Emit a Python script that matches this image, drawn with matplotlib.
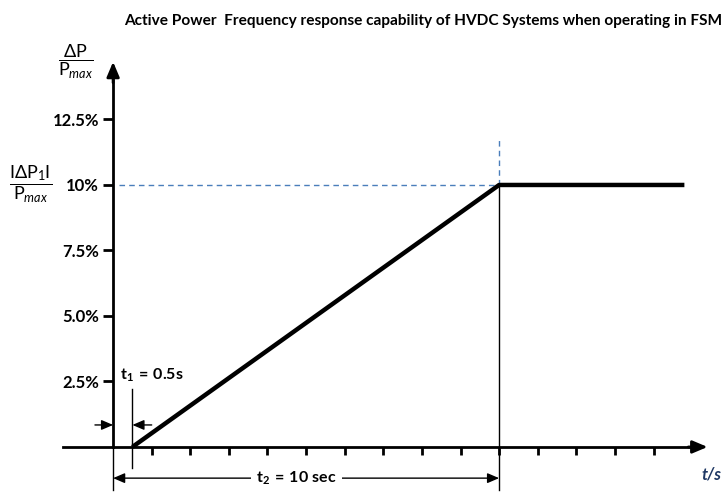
import numpy as np
import matplotlib
matplotlib.use('Agg')
import matplotlib.pyplot as plt

plt.rcParams['font.family'] = ['Lato', 'DejaVu Sans']
plt.rcParams['mathtext.fontset'] = 'custom'
plt.rcParams['mathtext.rm'] = 'Lato'
plt.rcParams['mathtext.it'] = 'Lato:italic'
plt.rcParams['mathtext.bf'] = 'Lato:bold'
plt.rcParams['mathtext.fallback'] = 'stixsans'

# response curve (time in s, active power in % of Pmax)
t_resp = [0.5, 10.0, 14.8]
p_resp = [0.0, 10.0, 10.0]

t1 = 0.5        # initial delay
t2 = 10.0       # full activation time
p_max_step = 10.0

y_ticks = [2.5, 5.0, 7.5, 10.0, 12.5]
y_labels = ['2.5%', '5.0%', '7.5%', '10%', '12.5%']
x_ticks = list(range(1, 15))

title = 'Active Power  Frequency response capability of HVDC Systems when operating in FSM'

fig = plt.figure(figsize=(7.28, 4.97), dpi=100)
ax = fig.add_axes([0, 0, 1, 1])
ax.set_xlim(-2.93, 15.93)
ax.set_ylim(-1.91, 17.06)

# axes through the origin
for s in ['top', 'right']:
    ax.spines[s].set_visible(False)
ax.spines['left'].set_position(('data', 0))
ax.spines['bottom'].set_position(('data', 0))
ax.spines['left'].set_bounds(0, 14.0)
ax.spines['bottom'].set_bounds(-1.3, 15.0)
ax.spines['left'].set_linewidth(2)
ax.spines['bottom'].set_linewidth(2)
ax.patch.set_visible(False)

arrow_kw = dict(arrowstyle='-|>,head_length=0.9,head_width=0.38', lw=2,
                color='black', shrinkA=0, shrinkB=0, mutation_scale=10)
ax.annotate('', xy=(0, 14.7), xytext=(0, 13.9), arrowprops=arrow_kw)
ax.annotate('', xy=(15.4, 0), xytext=(14.9, 0), arrowprops=arrow_kw)

ax.set_yticks(y_ticks)
ax.set_yticklabels(y_labels, fontsize=12, fontweight='bold')
ax.set_xticks(x_ticks)
ax.set_xticklabels([])
ax.tick_params(axis='y', direction='out', length=7, width=2, pad=3)
ax.tick_params(axis='x', direction='out', length=6, width=2)

# reference lines
ref_blue = '#4a7ebb'
ax.plot([0.15, t2], [p_max_step, p_max_step], color=ref_blue, lw=1,
        ls=(0, (4, 3)))
ax.plot([t2, t2], [p_max_step, 11.8], color=ref_blue, lw=1, ls=(0, (4, 3)))
ax.plot([t2, t2], [-1.64, p_max_step], color='black', lw=1)
ax.plot([0, 0], [-1.64, 0], color='black', lw=1)
ax.plot([t1, t1], [-0.8, 2.2], color='black', lw=1)

# response
ax.plot(t_resp, p_resp, color='black', lw=3.2, solid_capstyle='butt')

# t1 arrows
small_arrow = dict(arrowstyle='-|>,head_length=0.7,head_width=0.3', lw=1,
                   color='black', shrinkA=0, shrinkB=0, mutation_scale=10)
ax.annotate('', xy=(0, 0.84), xytext=(-0.47, 0.84), arrowprops=small_arrow)
ax.annotate('', xy=(t1, 0.84), xytext=(1.0, 0.84), arrowprops=small_arrow)
ax.text(0.18, 2.75, r'$\mathbf{t_{1}\:=\:0.5s}$', fontsize=11.5,
        ha='left', va='center')

# t2 arrow
small_arrow2 = dict(arrowstyle='<|-|>,head_length=0.7,head_width=0.3', lw=1,
                    color='black', shrinkA=0, shrinkB=0, mutation_scale=10)
ax.annotate('', xy=(0, -1.19), xytext=(t2, -1.19), arrowprops=small_arrow2)
ax.text(4.75, -1.19, r'$\mathbf{t_{2}\:=\:10\ sec}$', fontsize=11.5,
        ha='center', va='center',
        bbox=dict(facecolor='white', edgecolor='none', pad=4))

# axis labels
ax.text(-1.42, 14.7, r'$\dfrac{\mathrm{\Delta P}}{\mathrm{P}_{\mathit{max}}}$',
        fontsize=13, ha='left', va='center')
ax.text(-2.7, 10.0,
        r'$\dfrac{\mathrm{I\Delta P_{1}I}}{\mathrm{P}_{\mathit{max}}}$',
        fontsize=13, ha='left', va='center')
ax.text(15.25, -1.05, 't/s', fontsize=12, fontweight='bold', style='italic',
        color='#1f3864', ha='left', va='center')

fig.text(0.581, 0.958, title, fontsize=11.1, fontweight='bold', ha='center',
         va='center')

fig.savefig('out.png', dpi=100)
